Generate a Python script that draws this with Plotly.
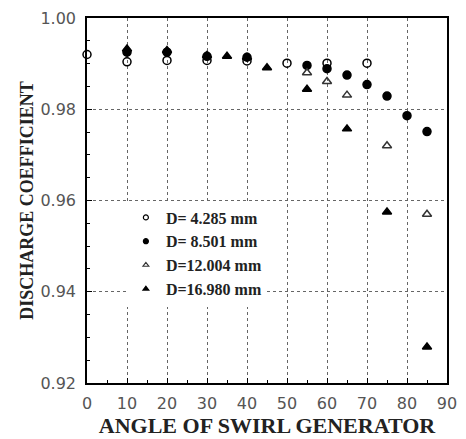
import plotly.graph_objects as go

# D = 4.285 mm (open circles)
x1 = [0, 10, 20, 30, 40, 50, 60, 70]
y1 = [0.9920, 0.9904, 0.9907, 0.9907, 0.9906, 0.9901, 0.9901, 0.9901]
# D = 8.501 mm (filled circles)
x2 = [10, 20, 30, 40, 55, 60, 65, 70, 75, 80, 85]
y2 = [0.9925, 0.9925, 0.9916, 0.9914, 0.9896, 0.9889, 0.9875, 0.9854, 0.9829, 0.9786, 0.9751]
# D = 12.004 mm (open triangles)
x3 = [55, 60, 65, 75, 85]
y3 = [0.9880, 0.9861, 0.9831, 0.9720, 0.9570]
# D = 16.980 mm (filled triangles)
x4 = [10, 20, 30, 35, 40, 45, 55, 65, 75, 85]
y4 = [0.9932, 0.9929, 0.9918, 0.9916, 0.9914, 0.9891, 0.9844, 0.9757, 0.9575, 0.9279]

names = ["D= 4.285 mm", "D= 8.501 mm", "D=12.004 mm", "D=16.980 mm"]
symbols = ["circle-open", "circle", "triangle-up-open", "triangle-up"]
colors = ["black", "black", "#333", "black"]
xs = [x1, x2, x3, x4]
ys = [y1, y2, y3, y4]

fig = go.Figure()
for xv, yv, nm, sym, col in zip(xs, ys, names, symbols, colors):
    fig.add_trace(go.Scatter(x=xv, y=yv, mode="markers", showlegend=False, cliponaxis=False,
                             marker=dict(symbol=sym, size=8, color=col, line=dict(width=1.5, color=col))))
# legend-only entries with smaller symbols
for nm, sym, col in zip(names, symbols, colors):
    fig.add_trace(go.Scatter(x=[None], y=[None], mode="markers", name="<b>" + nm + "</b>",
                             marker=dict(symbol=sym, size=5, color=col, line=dict(width=1.2, color=col))))

axis_common = dict(
    showline=True, linecolor="black", linewidth=1.5, mirror=True,
    showgrid=True, gridcolor="#666", griddash="dot", gridwidth=1,
    ticks="inside", ticklen=5, tickcolor="black",
    zeroline=False,
    tickfont=dict(family="DejaVu Sans", size=16, color="#555"),
)

fig.update_xaxes(range=[0, 90], dtick=10, tick0=0, ticklabelstandoff=5,
                 minor=dict(dtick=5, ticks="inside", ticklen=3, tickcolor="black"),
                 title=dict(text="<b>ANGLE OF SWIRL GENERATOR</b>", standoff=0,
                            font=dict(family="Liberation Serif", size=22, color="#222")),
                 **axis_common)
fig.update_yaxes(range=[0.92, 1.00], dtick=0.02, tick0=0.92, tickformat=".2f", ticklabelstandoff=6,
                 minor=dict(dtick=0.005, ticks="inside", ticklen=3, tickcolor="black", showgrid=False),
                 title=dict(text="<b>DISCHARGE COEFFICIENT</b>", standoff=2,
                            font=dict(family="Liberation Serif", size=18, color="#222")),
                 **axis_common)

fig.update_layout(
    width=466, height=439,
    margin=dict(l=87, r=9, t=15, b=56),
    plot_bgcolor="white", paper_bgcolor="white",
    showlegend=True,
    legend=dict(x=0.108, y=0.5, xanchor="left", yanchor="top",
                bgcolor="white", borderwidth=0,
                font=dict(family="Liberation Serif", size=16, color="#222"),
                itemwidth=30, tracegroupgap=0),
)

fig.write_html("out.html")
